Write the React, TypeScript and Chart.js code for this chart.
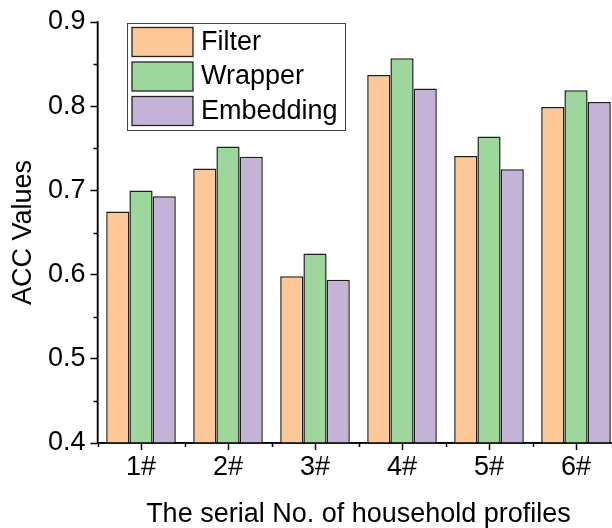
import React, { useEffect, useRef } from "react";
import { Chart, registerables } from "chart.js";

Chart.register(...registerables);

const categories = ["1#", "2#", "3#", "4#", "5#", "6#"];
const filterValues = [0.675, 0.726, 0.598, 0.837, 0.741, 0.799];
const wrapperValues = [0.700, 0.752, 0.625, 0.857, 0.764, 0.819];
const embeddingValues = [0.693, 0.740, 0.594, 0.821, 0.725, 0.805];
const seriesNames = ["Filter", "Wrapper", "Embedding"];
const seriesColors = ["#FDC897", "#9ED79C", "#C4B3D7"];
const yMinorTicks = [0.45, 0.55, 0.65, 0.75, 0.85];

const FONT = "'Liberation Sans', Arial, sans-serif";

const axisOverlayPlugin = {
  id: "axisOverlay",
  afterDatasetsDraw(chart: any) {
    const ctx = chart.ctx;
    const y = chart.scales.y;
    const x = chart.scales.x;
    ctx.save();
    ctx.strokeStyle = "#000";
    ctx.lineWidth = 1.5;
    ctx.beginPath();
    // axis lines on top of the bars
    ctx.moveTo(x.left, y.bottom);
    ctx.lineTo(x.right + 30, y.bottom);
    ctx.moveTo(x.left, y.top);
    ctx.lineTo(x.left, y.bottom);
    // minor ticks
    yMinorTicks.forEach((v) => {
      const py = Math.round(y.getPixelForValue(v)) + 0.5;
      ctx.moveTo(x.left, py);
      ctx.lineTo(x.left - 4, py);
    });
    const n = categories.length;
    const step = n > 1 ? x.getPixelForValue(1) - x.getPixelForValue(0) : x.width;
    for (let i = 0; i <= n; i++) {
      const px = Math.round(x.getPixelForValue(0) - step / 2 + i * step) + 0.5;
      ctx.moveTo(px, y.bottom);
      ctx.lineTo(px, y.bottom + 4);
    }
    ctx.stroke();
    ctx.restore();
  },
};

const boxLegendPlugin = {
  id: "boxLegend",
  afterDraw(chart: any) {
    const ctx = chart.ctx;
    const boxX = 127, boxY = 23, boxW = 218, boxH = 107;
    ctx.save();
    ctx.fillStyle = "#fff";
    ctx.fillRect(boxX, boxY, boxW, boxH);
    ctx.strokeStyle = "#444";
    ctx.lineWidth = 1;
    ctx.strokeRect(boxX + 0.5, boxY + 0.5, boxW, boxH);
    chart.data.datasets.forEach((ds: any, i: number) => {
      const sy = 27.5 + i * 34.5;
      ctx.fillStyle = ds.backgroundColor;
      ctx.fillRect(132, sy, 61, 29);
      ctx.strokeStyle = "#222";
      ctx.lineWidth = 1.3;
      ctx.strokeRect(132, sy, 61, 29);
      ctx.fillStyle = "#000";
      ctx.font = `27px ${FONT}`;
      ctx.textBaseline = "middle";
      ctx.textAlign = "left";
      ctx.fillText(ds.label, 201, sy + 15);
    });
    ctx.restore();
  },
};

export default function App() {
  const ref = useRef<HTMLCanvasElement | null>(null);
  useEffect(() => {
    if (!ref.current) return;
    const values = [filterValues, wrapperValues, embeddingValues];
    const chart = new Chart(ref.current, {
      type: "bar",
      data: {
        labels: categories,
        datasets: seriesNames.map((name, i) => ({
          label: name,
          data: values[i],
          backgroundColor: seriesColors[i],
          borderColor: "#1e1e1e",
          borderWidth: 1.5,
          categoryPercentage: 0.8,
          barPercentage: 1.0,
        })),
      },
      options: {
        animation: false,
        responsive: false,
        maintainAspectRatio: false,
        layout: { padding: { top: 22, right: 20.5, left: 0, bottom: 0 } },
        plugins: { legend: { display: false }, tooltip: { enabled: false } },
        scales: {
          x: {
            grid: {
              offset: false,
              drawOnChartArea: false,
              drawTicks: true,
              tickLength: 7,
              tickColor: "#000",
              tickWidth: 1.5,
            },
            border: { display: true, color: "#000", width: 1.5 },
            ticks: {
              color: "#000",
              font: { family: FONT, size: 27 },
              padding: 1,
              maxRotation: 0,
            },
            title: {
              display: true,
              text: "The serial No. of household profiles",
              color: "#000",
              font: { family: FONT, size: 27, lineHeight: 1 },
              padding: { top: 0, bottom: 0 },
            },
            afterFit: (s: any) => {
              s.height = 85;
            },
          },
          y: {
            min: 0.4,
            max: 0.9,
            grid: {
              drawOnChartArea: false,
              drawTicks: true,
              tickLength: 7,
              tickColor: "#000",
              tickWidth: 1.5,
            },
            border: { display: true, color: "#000", width: 1.5 },
            ticks: {
              stepSize: 0.1,
              color: "#000",
              font: { family: FONT, size: 27 },
              padding: 5,
              callback: (v: any) => Number(v).toFixed(1),
            },
            title: {
              display: true,
              text: "ACC Values",
              color: "#000",
              font: { family: FONT, size: 27, lineHeight: 1 },
              padding: { top: 10, bottom: 0 },
            },
            afterFit: (s: any) => {
              s.width = 97.5;
            },
          },
        },
      },
      plugins: [axisOverlayPlugin, boxLegendPlugin],
    });
    return () => chart.destroy();
  }, []);

  return (
    <div
      style={{
        position: "fixed",
        left: 0,
        top: 0,
        width: 612,
        height: 528,
        overflow: "hidden",
        background: "#fff",
      }}
    >
      <canvas ref={ref} width={640} height={528} style={{ display: "block" }} />
    </div>
  );
}
